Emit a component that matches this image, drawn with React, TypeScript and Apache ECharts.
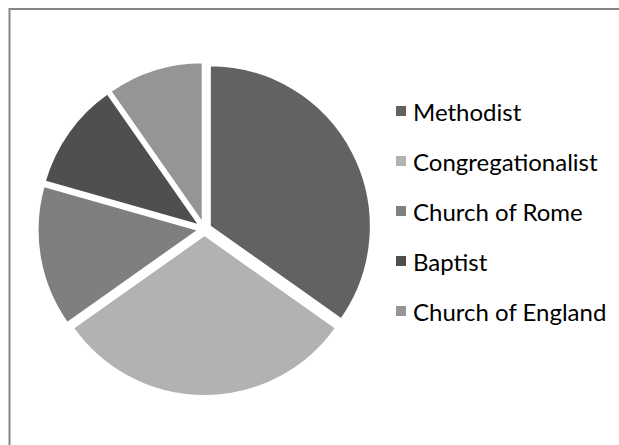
import React, { useEffect, useRef } from "react";
import * as echarts from "echarts";

const categories = ["Methodist", "Congregationalist", "Church of Rome", "Baptist", "Church of England"];
const values = [34.8, 30.4, 14.2, 10.9, 9.7];
const colors = ["#626262", "#b2b2b2", "#7f7f7f", "#4f4f4f", "#959595"];

export default function App() {
  const ref = useRef<HTMLDivElement>(null);
  useEffect(() => {
    if (!ref.current) return;
    const chart = echarts.init(ref.current, undefined, { renderer: "svg" });
    chart.setOption({
      animation: false,
      backgroundColor: "#ffffff",
      graphic: [
        {
          type: "rect",
          shape: { x: 9.5, y: 9, width: 700, height: 500 },
          style: { fill: "none", stroke: "#868686", lineWidth: 2 },
          silent: true,
        },
      ],
      legend: {
        orient: "vertical",
        left: 389,
        top: 94,
        itemWidth: 12,
        itemHeight: 12,
        itemGap: 26,
        icon: "rect",
        selectedMode: false,
        data: categories,
        textStyle: {
          fontFamily: "Lato, 'Open Sans', sans-serif",
          fontSize: 24,
          lineHeight: 24,
          color: "#000000",
          padding: [0, 0, 0, 1],
        },
      },
      series: [
        {
          type: "pie",
          center: [204.5, 229],
          radius: 161,
          startAngle: 90,
          clockwise: true,
          selectedMode: "multiple",
          selectedOffset: 6,
          label: { show: false },
          labelLine: { show: false },
          emphasis: { disabled: true },
          itemStyle: { borderColor: "#ffffff", borderWidth: 2 },
          data: categories.map((name, i) => ({
            name,
            value: values[i],
            selected: true,
            itemStyle: { color: colors[i] },
          })),
        },
      ],
    });
    return () => chart.dispose();
  }, []);
  return (
    <div
      ref={ref}
      style={{ position: "fixed", left: 0, top: 0, width: 619, height: 445, background: "#fff" }}
    />
  );
}
